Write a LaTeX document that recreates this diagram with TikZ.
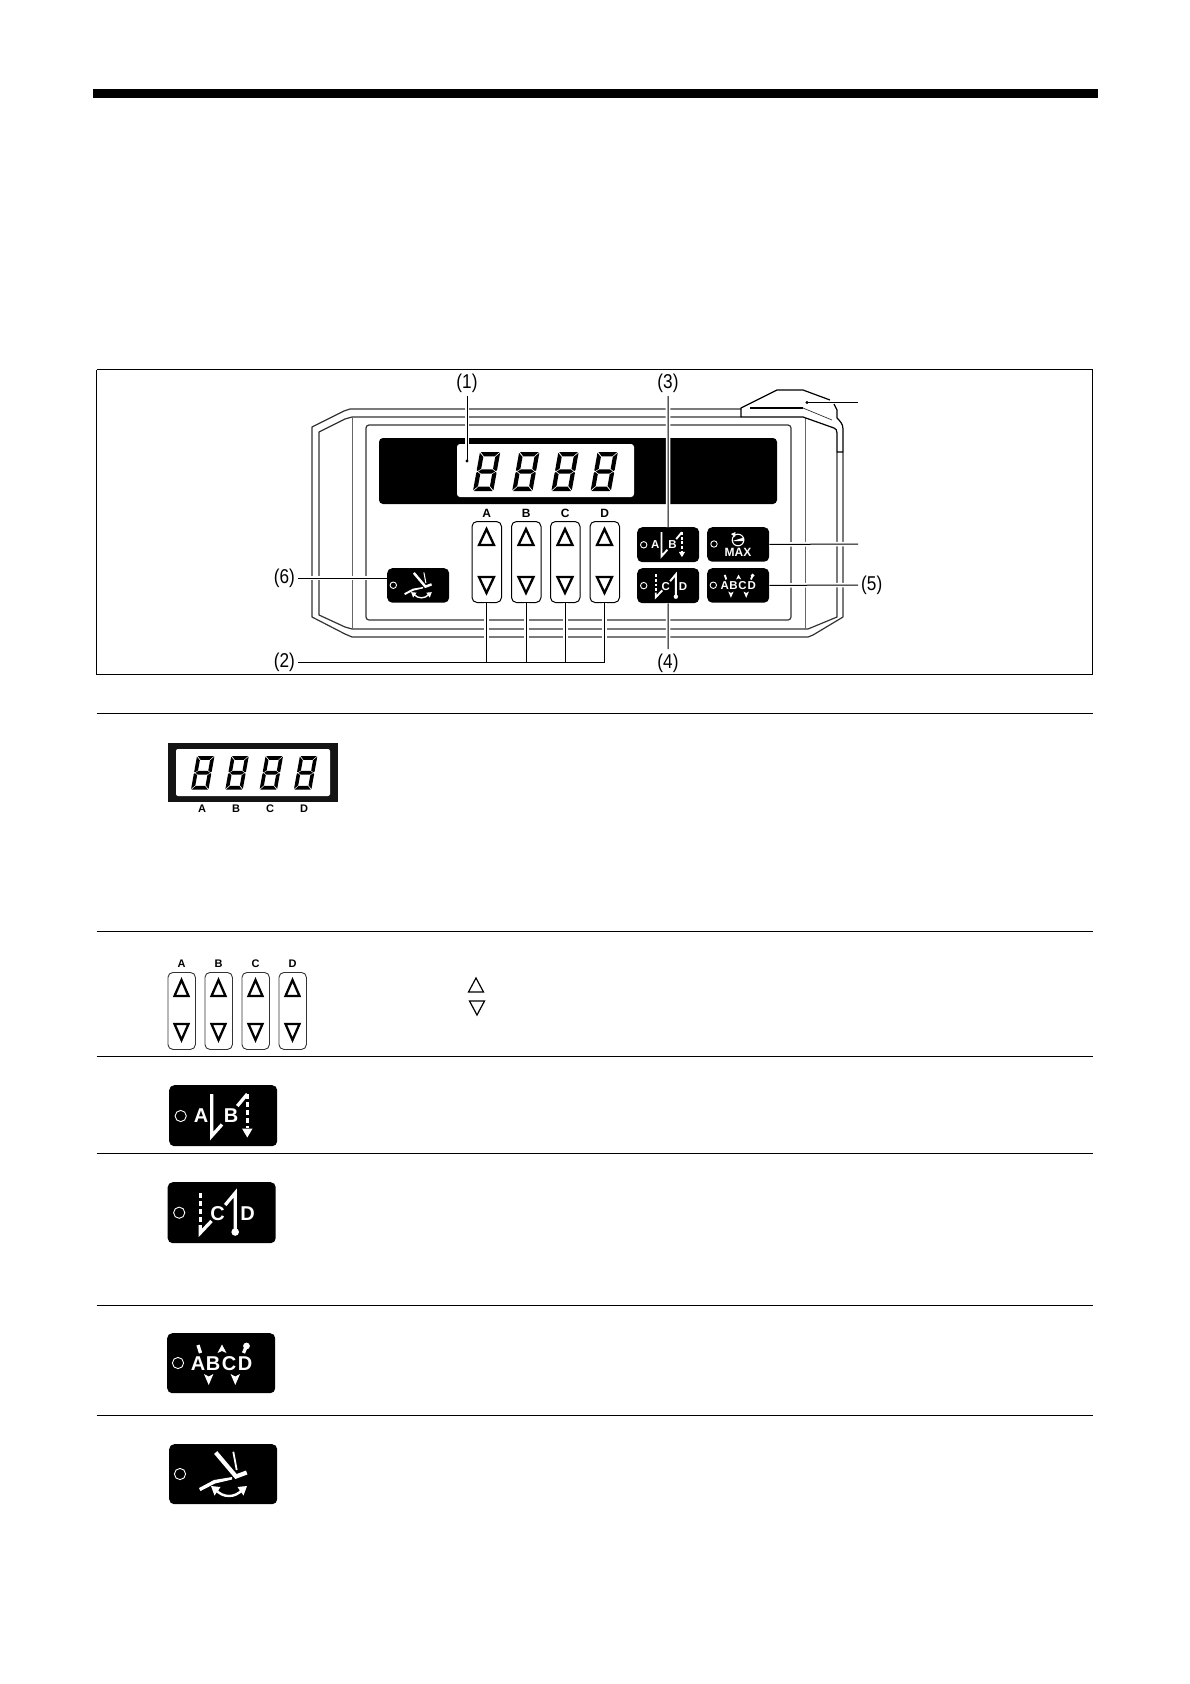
\documentclass[tikz,border=0pt]{standalone}
\usepackage{fontspec}
\setmainfont{Liberation Sans}
\newfontfamily\narrowfont[FakeStretch=0.86]{Liberation Sans}
\usetikzlibrary{calc}
\tikzset{
  rule/.style={line width=1pt,black},
  leader/.style={line width=1pt,black,preaction={draw=white,line width=4.6pt}},
  plainleader/.style={line width=1pt,black},
  panelline/.style={line width=1.2pt,black!80},
  panelthin/.style={line width=0.8pt,black!60},
  callout/.style={font=\narrowfont\fontsize{20}{20}\selectfont,inner sep=0pt,text=black},
  keyletter/.style={font=\bfseries\fontsize{12}{12}\selectfont,inner sep=0pt},
  smallletter/.style={font=\bfseries\fontsize{11}{11}\selectfont,inner sep=0pt},
  updown/.style={draw=black,line width=1pt,rounded corners=5pt,fill=white,inner sep=0pt},
  blackkey/.style={fill=black,rounded corners=5pt,inner sep=0pt,anchor=north west},
  iconletter/.style={font=\bfseries\fontsize{20}{20}\selectfont,text=white,inner sep=0pt,transform shape},
  seg/.style={fill=black},
  tribold/.style={draw=black,line width=2.3pt,miter limit=6},
  trithin/.style={draw=black,line width=1.2pt,miter limit=6}
}
\newcommand{\segdigit}[3]{%
  \begin{scope}[shift={(#1+7*#3,#2)},xslant=0.18,scale=#3]
    \fill[seg] (0.8,0)--(19.6,0)--(15.4,4.4)--(4.9,4.4)--cycle;
    \fill[seg] (0.8,39)--(19.6,39)--(15.4,34.6)--(4.9,34.6)--cycle;
    \fill[seg] (1.8,19.5)--(5,17.3)--(15.3,17.3)--(18.6,19.5)--(15.3,21.7)--(5,21.7)--cycle;
    \fill[seg] (0,0.8)--(4.2,5)--(4.2,16.8)--(1.1,19)--(0,18.2)--cycle;
    \fill[seg] (20.3,0.8)--(16.1,5)--(16.1,16.8)--(19.2,19)--(20.3,18.2)--cycle;
    \fill[seg] (0,38.2)--(4.2,34)--(4.2,22.2)--(1.1,20)--(0,20.8)--cycle;
    \fill[seg] (20.3,38.2)--(16.1,34)--(16.1,22.2)--(19.2,20)--(20.3,20.8)--cycle;
  \end{scope}}
\newcommand{\triup}[5]{\draw[#5] (#1-#3,#2+#4/2)--(#1,#2-#4/2)--(#1+#3,#2+#4/2)--cycle;}
\newcommand{\tridown}[5]{\draw[#5] (#1-#3,#2-#4/2)--(#1,#2+#4/2)--(#1+#3,#2-#4/2)--cycle;}
\newcommand{\iconframe}[5]{%
  \node[blackkey,minimum width=#4*108,minimum height=#5] (#1) at (#2,#3) {};
}
\newcommand{\setscale}[1]{%
  \tikzset{
    stitch/.style={draw=white,line width=#1*3.3pt},
    dashstitch/.style={draw=white,line width=#1*3.3pt,dash pattern=on #1*5pt off #1*3pt},
    led/.style={draw=white,line width=0.9pt},
    thinw/.style={draw=white,line width=#1*1.8pt},
    footw/.style={draw=white,line width=#1*4.2pt,line join=miter},
    arcw/.style={draw=white,line width=#1*2.4pt}
  }}
\newcommand{\iconAB}[4]{%
  \iconframe{#1}{#2}{#3}{#4}{#4*61}
  \setscale{#4}
  \begin{scope}[shift={(#2,#3)},scale=#4]
    \draw[led] (11.7,31) circle (5.6);
    \node[iconletter] (#1a) at (32,31) {A};
    \node[iconletter] (#1b) at (62,31) {B};
    \draw[stitch,line join=miter] (42.7,9)--(42.7,51)--(53,39.5);
    \draw[stitch] (68.3,21)--(78.3,9);
    \draw[dashstitch] (78.3,9)--(78.3,43);
    \fill[white] (73,43.5)--(83.6,43.5)--(78.3,52.5)--cycle;
  \end{scope}}
\newcommand{\iconCD}[4]{%
  \iconframe{#1}{#2}{#3}{#4}{#4*61}
  \setscale{#4}
  \begin{scope}[shift={(#2,#3)},scale=#4]
    \draw[led] (11.7,30.7) circle (5.6);
    \draw[dashstitch] (32.7,11)--(32.7,42);
    \draw[stitch] (32.7,43)--(32.7,51)--(44,39);
    \node[iconletter] (#1c) at (50,32) {C};
    \draw[stitch] (57.7,23)--(67.7,11)--(67.7,50);
    \fill[white] (67.7,50) circle (3.8);
    \node[iconletter] (#1d) at (80,32) {D};
  \end{scope}}
\newcommand{\iconABCD}[4]{%
  \iconframe{#1}{#2}{#3}{#4}{#4*60}
  \setscale{#4}
  \begin{scope}[shift={(#2,#3)},scale=#4]
    \draw[led] (11,30) circle (5.6);
    \node[iconletter] (#1a) at (31,31) {A};
    \node[iconletter] (#1b) at (46,31) {B};
    \node[iconletter] (#1c) at (62,31) {C};
    \node[iconletter] (#1d) at (78,31) {D};
    \draw[stitch] (31,12)--(33.5,20);
    \fill[white] (50.5,20)--(55,11.5)--(59.5,20)--(55,18)--cycle;
    \fill[white] (79.5,13) circle (3.4);
    \draw[stitch] (79,14)--(76.5,20);
    \fill[white] (37,41)--(41.7,43.5)--(46.4,41)--(41.7,52)--cycle;
    \fill[white] (63.6,41)--(68.3,43.5)--(73,41)--(68.3,52)--cycle;
  \end{scope}}
\newcommand{\iconFoot}[4]{%
  \iconframe{#1}{#2}{#3}{#4}{#4*60}
  \setscale{#4}
  \begin{scope}[shift={(#2,#3)},scale=#4]
    \draw[led] (11,30) circle (5.6);
    \draw[footw] (46.7,8.5)--(67,32.5)--(77.7,28.5);
    \draw[thinw] (64.3,7.7)--(67.7,26);
    \fill[white] (30,44)--(45,36)--(63,33)--(63,35.5)--(46,39.5)--(31.5,47)--cycle;
    \draw[arcw] (47,46)..controls (54,54) and (66,54) .. (73,46);
    \fill[white] (42,42)--(51.5,43)--(45.5,51.5)--cycle;
    \fill[white] (78,42)--(68.5,43)--(74.5,51.5)--cycle;
  \end{scope}}
\begin{document}
\begin{tikzpicture}[x=1pt,y=-1pt]
\useasboundingbox[fill=white] (0,0) rectangle (1190,1684);
\fill[black] (92.5,89) rectangle (1097.5,98);
\draw[line width=1.2pt] (96.5,369.5)--(1092.5,369.5)--(1092.5,674.5);
\draw[line width=1.2pt] (96.5,674.5)--(96.5,369.5);
\draw[line width=1.8pt] (96.5,674.5)--(1092.5,674.5);
\coordinate (rl1) at (96.5,713.5); \coordinate (rr1) at (1092.5,713.5);
\coordinate (rl2) at (96.5,931.5); \coordinate (rr2) at (1092.5,931.5);
\coordinate (rl3) at (96.5,1056.5); \coordinate (rr3) at (1092.5,1056.5);
\coordinate (rl4) at (96.5,1153.5); \coordinate (rr4) at (1092.5,1153.5);
\coordinate (rl5) at (96.5,1305); \coordinate (rr5) at (1092.5,1305);
\coordinate (rl6) at (96.5,1415.5); \coordinate (rr6) at (1092.5,1415.5);
\foreach \i in {1,...,6} \draw[rule] (rl\i)--(rr\i);
% panel body
\draw[panelline,line join=round] (741,409)--(350,409)--(344,411)--(312,427)--(312,617)--(345,634)--(352,637)--(808,637)--(813,635)--(843,617)--(843,452);
\draw[panelline,line join=round] (741,417)--(352,417)--(345,419)--(319,432)--(319,615)--(345,627)--(352,629)--(808,629)--(837,617)--(837,452);
\draw[panelthin] (352,417)--(352,629);
\draw[panelthin] (805,418)--(805,629);
\draw[panelline,rounded corners=3pt] (366,425) rectangle (791,620);
% cap
\draw[line width=1.2pt,line join=round] (803,417)--(741,417)--(741,408)--(777,390)--(803,390)--(830,400);
\draw[line width=1.2pt,line join=round] (834,404)--(837,410)--(837,418)..controls (840,421) and (843,424) .. (843,429)--(843,452)--(837,452)--(837,433)..controls (837,430) and (836,429) .. (834,428)--(803,417);
\draw[line width=1.2pt] (750,408)--(803,408);
\draw[line width=0.7pt,black!80] (803,408)--(832,420);
% display
\fill[black,rounded corners=4pt] (379,438) rectangle (777,504);
\fill[white,rounded corners=3pt] (457,444) rectangle (634,497);
\foreach \k in {0,1,2,3} \segdigit{473+\k*39.2}{452}{1};
% keys
\foreach \n/\l/\x in {kA/A/471.5,kB/B/511,kC/C/550,kD/D/589.5}{
  \node[updown,anchor=north west,minimum width=29.5,minimum height=81] (\n) at (\x,521) {};
  \node[keyletter] (\n l) at ($(\n.north)+(0,-8)$) {\l};
  \triup{\x+15}{537}{7.5}{16}{tribold}
  \tridown{\x+15}{585}{7.5}{16}{tribold}
}
\iconAB{pAB}{637}{527}{0.574}
\iconCD{pCD}{637}{568}{0.574}
\iconABCD{pABCD}{707}{568}{0.574}
\iconFoot{pFoot}{387}{568}{0.574}
\node[blackkey,minimum width=62,minimum height=34.5] (pMax) at (707,527) {};
\draw[draw=white,line width=0.9pt] (714,544) circle (3.2);
\draw[white,line width=1.1pt] (738,540) circle (5.8);
\fill[white] (732.5,541)--(744,537.5)--(744,541)--cycle;
\fill[white] (731,534)--(735.5,532)--(735,537)--cycle;
\node[font=\bfseries\fontsize{12}{12}\selectfont,text=white,inner sep=0pt] (maxtxt) at (738,552.5) {MAX};
% callouts
\node[callout] (c1) at (467,383) {(1)};
\node[callout] (c3) at (668,383) {(3)};
\node[callout] (c4) at (668,663) {(4)};
\node[callout,anchor=west] (c5) at (861,585) {(5)};
\node[callout,anchor=east] (c6) at (295,578) {(6)};
\node[callout,anchor=east] (c2) at (295,662) {(2)};
\coordinate (dot1) at (467,461);
\coordinate (capdot) at (807,402.5);
\coordinate (capend) at (858,402.5);
\coordinate (maxend) at (858,544);
\coordinate (lead1) at (467,396);
\coordinate (lead3) at (668,396);
\coordinate (lead4) at (668,649);
\coordinate (lead5) at (858,585);
\coordinate (lead6) at (298,578);
\coordinate (lead2) at (298,662);
\draw[leader] (lead1)--(dot1);
\fill (dot1) circle (1.7);
\fill (capdot) circle (1.7);
\draw[leader] (lead3)--(pAB.north);
\draw[leader] (pCD.south)--(lead4);
\draw[leader] (pABCD.east)--(lead5);
\draw[leader] (lead6)--(pFoot.west |- lead6);
\draw[plainleader] (capdot)--(capend);
\draw[leader] (pMax.east)--(maxend);
\foreach \n in {kA,kB,kC,kD} \draw[leader] (\n.south)--(\n.south |- lead2);
\draw[plainleader] (lead2)--(kD.south |- lead2);
% row 1
\fill[black!92] (168,743) rectangle (338,802);
\fill[white,rounded corners=2pt] (176,749) rectangle (330,796);
\foreach \k in {0,1,2,3} \segdigit{191+\k*34.3}{756}{0.86};
\foreach \n/\l/\x in {dA/A/202,dB/B/236,dC/C/270,dD/D/304}
  \node[smallletter] (\n) at (\x,809) {\l};
% row 2
\foreach \n/\l/\x in {rA/A/167.5,rB/B/204.5,rC/C/241.5,rD/D/278.5}{
  \node[updown,draw=black!80,line width=0.9pt,anchor=north west,minimum width=27.5,minimum height=77] (\n) at (\x,972) {};
  \node[smallletter] (\n l) at ($(\n.north)+(0,-8)$) {\l};
  \triup{\x+14}{988}{7}{16}{tribold}
  \tridown{\x+14}{1032}{7}{16}{tribold}
}
\triup{476}{985}{7.5}{14}{trithin}
\tridown{477}{1008}{7.5}{14}{trithin}
% rows 3-6
\iconAB{tAB}{169}{1085}{1}
\iconCD{tCD}{167.5}{1182}{1}
\iconABCD{tABCD}{167}{1333}{1}
\iconFoot{tFoot}{169}{1444}{1}
\end{tikzpicture}
\end{document}
